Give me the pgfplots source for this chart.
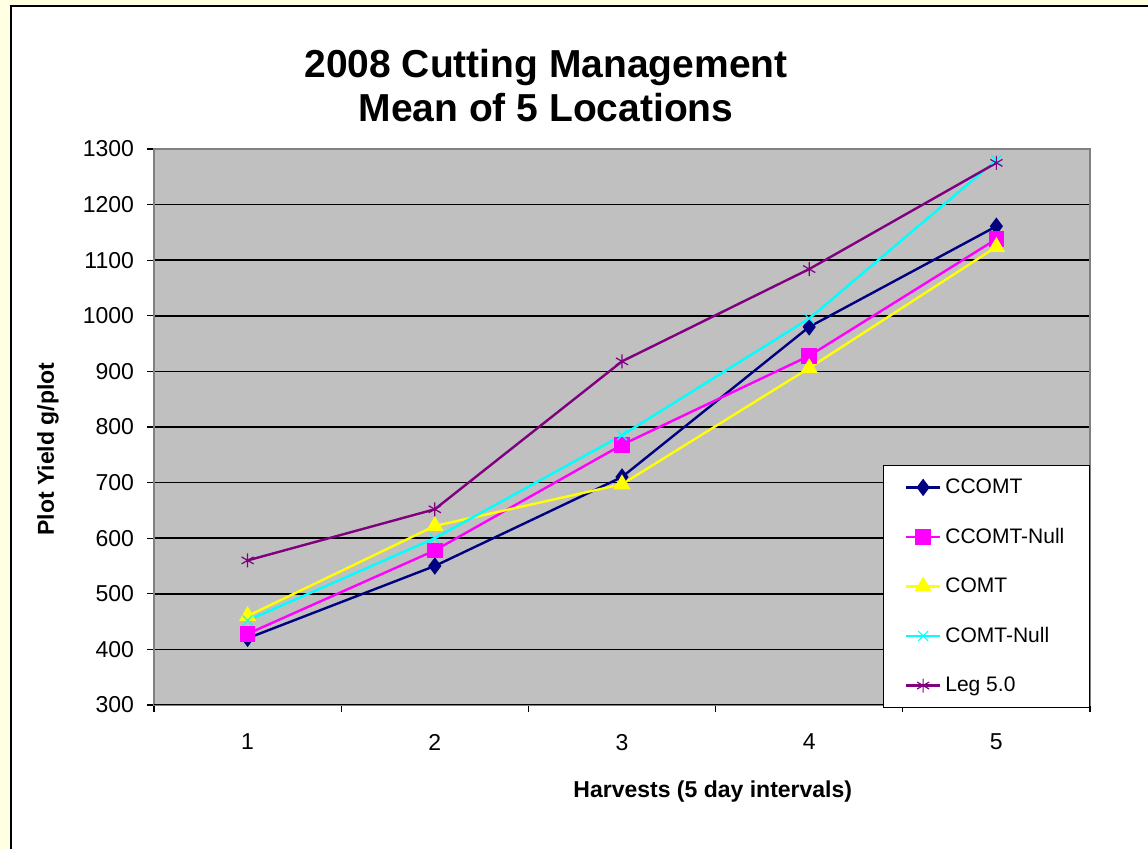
\documentclass[border=0pt]{standalone}
\usepackage{fontspec}
\setmainfont{Liberation Sans}
\usepackage{pgfplots}
\pgfplotsset{compat=1.18}
\definecolor{bgyellow}{RGB}{255,255,225}
\definecolor{plotgray}{RGB}{192,192,192}
\definecolor{cnavy}{RGB}{0,0,128}
\definecolor{cmag}{RGB}{255,0,255}
\definecolor{cyel}{RGB}{255,255,0}
\definecolor{ccyan}{RGB}{0,255,255}
\definecolor{cpurp}{RGB}{128,0,128}
\begin{document}
\begin{tikzpicture}
\useasboundingbox (0,0) rectangle (574pt,424.5pt);
\fill[bgyellow] (0,0) rectangle (574pt,424.5pt);
\filldraw[fill=white, draw=black, line width=1pt] (5.5pt,-5pt) rectangle (580pt,421.5pt);
\node[font=\fontsize{19.5}{22}\bfseries\selectfont, anchor=base] at (273pt,385.5pt) {2008 Cutting Management};
\node[font=\fontsize{19.5}{22}\bfseries\selectfont, anchor=base] at (273pt,363.5pt) {Mean of 5 Locations};
\begin{axis}[
  at={(77pt,72pt)}, anchor=south west,
  scale only axis, width=468pt, height=278pt,
  xmin=0.5, xmax=5.5, ymin=300, ymax=1300,
  xtick={1,2,3,4,5},
  minor xtick={0.5,1.5,2.5,3.5,4.5,5.5},
  ytick={300,400,...,1300},
  xtick pos=bottom, ytick pos=left,
  tick align=outside, major tick length=3.5pt, minor tick length=3.5pt,
  tick style={black, line width=0.6pt},
  major x tick style={draw=none},
  ymajorgrids, grid style={black, line width=0.8pt},
  axis background/.style={fill=plotgray},
  axis line style={draw=black!50, line width=1pt},
  ticklabel style={font=\fontsize{11.5}{13}\selectfont},
  xticklabel style={yshift=-7.5pt},
  yticklabel style={xshift=-3pt},
  /pgf/number format/assume math mode=true,
  /pgf/number format/1000 sep={},
  xlabel={Harvests (5 day intervals)},
  ylabel={Plot Yield g/plot},
  label style={font=\fontsize{11.5}{13}\bfseries\selectfont},
  xlabel style={at={(axis description cs:0.597,-0.1565)}, anchor=center},
  ylabel style={at={(axis description cs:-0.1132,0.46)}, anchor=center, rotate=0},
  legend style={at={(1,0.4317)}, anchor=north east, draw=black, line width=0.6pt, fill=white,
    font=\fontsize{10.5}{12}\selectfont, row sep=11.8pt, inner xsep=10.5pt, inner ysep=4.5pt,
    cells={anchor=west}},
  legend cell align=left,
]
\addplot[cnavy, line width=1.2pt, mark=diamond*, mark size=3.4pt, mark options={solid, fill=cnavy}]
  coordinates {(1,420) (2,550) (3,710) (4,980) (5,1161)};
\addlegendentry{CCOMT}
\addplot[cmag, line width=1.2pt, mark=square*, mark size=3.3pt, mark options={solid, fill=cmag}]
  coordinates {(1,428) (2,578) (3,768) (4,928) (5,1138)};
\addlegendentry{CCOMT-Null}
\addplot[cyel, line width=1.2pt, mark=triangle*, mark size=3.8pt, mark options={solid, fill=cyel}]
  coordinates {(1,460) (2,622) (3,697) (4,906) (5,1124)};
\addlegendentry{COMT}
\addplot[ccyan, line width=1.2pt, mark=x, mark size=3.5pt, mark options={solid, line width=0.6pt}]
  coordinates {(1,452) (2,600) (3,785) (4,995) (5,1280)};
\addlegendentry{COMT-Null}
\addplot[cpurp, line width=1.2pt, mark=asterisk, mark size=3.5pt, mark options={solid, line width=0.6pt}]
  coordinates {(1,560) (2,652) (3,918) (4,1084) (5,1275)};
\addlegendentry{Leg 5.0}
\draw[black, line width=1pt] (rel axis cs:0,0) -- (rel axis cs:1,0);
\end{axis}
\end{tikzpicture}
\end{document}
